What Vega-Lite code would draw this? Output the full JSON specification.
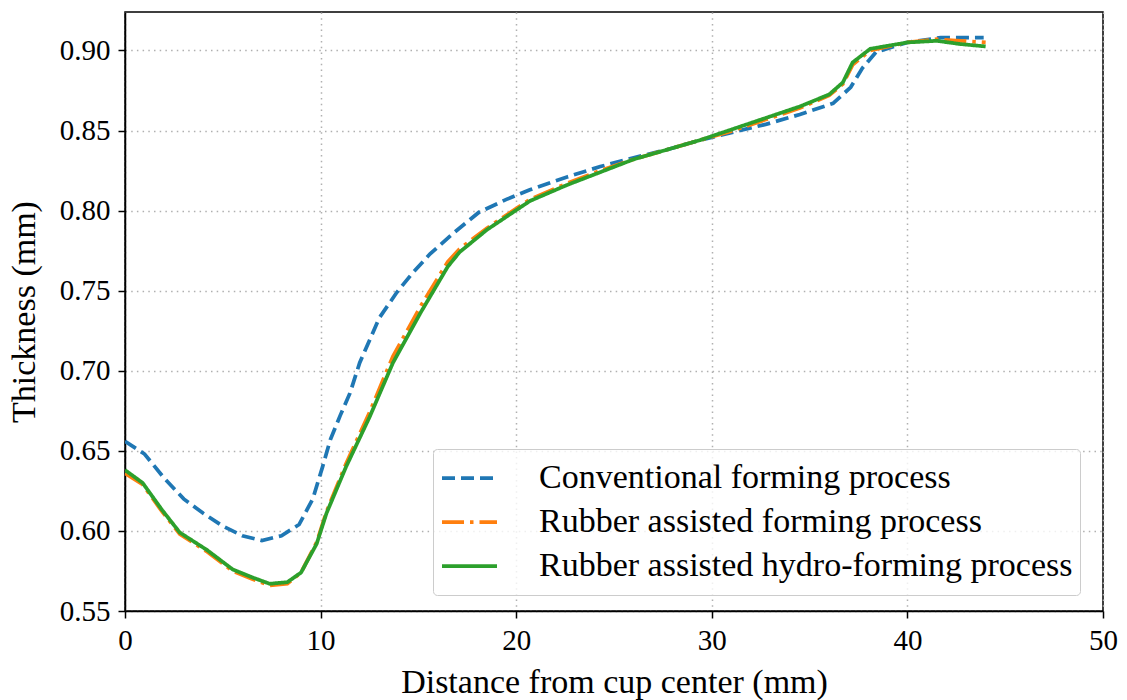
{
  "$schema": "https://vega.github.io/schema/vega-lite/v6.json",
  "autosize": {"type": "none"},
  "padding": {"left": 125, "top": 12, "right": 24, "bottom": 89},
  "width": 978,
  "height": 599,
  "background": "white",
  "config": {
    "font": "Liberation Serif",
    "view": {"stroke": "black", "strokeWidth": 1.5},
    "axis": {
      "domainColor": "black",
      "domainWidth": 1.5,
      "tickColor": "black",
      "tickWidth": 1.5,
      "tickSize": 7,
      "labelFont": "Liberation Serif",
      "labelFontSize": 29,
      "labelColor": "black",
      "titleFont": "Liberation Serif",
      "titleFontSize": 34,
      "titleFontWeight": "normal",
      "titleColor": "black",
      "gridColor": "#b0b0b0",
      "gridWidth": 1.5,
      "gridDash": [1.5, 4.2]
    }
  },
  "data": {
    "values": [
      {"process": "Conventional forming process", "x": 0, "t": 0.656},
      {"process": "Conventional forming process", "x": 1, "t": 0.648},
      {"process": "Conventional forming process", "x": 2, "t": 0.633},
      {"process": "Conventional forming process", "x": 3, "t": 0.62},
      {"process": "Conventional forming process", "x": 4, "t": 0.611},
      {"process": "Conventional forming process", "x": 5, "t": 0.603},
      {"process": "Conventional forming process", "x": 6, "t": 0.597},
      {"process": "Conventional forming process", "x": 7, "t": 0.594},
      {"process": "Conventional forming process", "x": 8, "t": 0.597},
      {"process": "Conventional forming process", "x": 8.9, "t": 0.604},
      {"process": "Conventional forming process", "x": 9.6, "t": 0.62},
      {"process": "Conventional forming process", "x": 10.1, "t": 0.64},
      {"process": "Conventional forming process", "x": 10.5, "t": 0.657},
      {"process": "Conventional forming process", "x": 11, "t": 0.672},
      {"process": "Conventional forming process", "x": 11.5, "t": 0.686},
      {"process": "Conventional forming process", "x": 12, "t": 0.705},
      {"process": "Conventional forming process", "x": 13, "t": 0.733},
      {"process": "Conventional forming process", "x": 13.9, "t": 0.749},
      {"process": "Conventional forming process", "x": 14.7, "t": 0.761},
      {"process": "Conventional forming process", "x": 15.6, "t": 0.773},
      {"process": "Conventional forming process", "x": 16.8, "t": 0.786},
      {"process": "Conventional forming process", "x": 18.1, "t": 0.799},
      {"process": "Conventional forming process", "x": 19.5, "t": 0.807},
      {"process": "Conventional forming process", "x": 20.7, "t": 0.813},
      {"process": "Conventional forming process", "x": 22.6, "t": 0.821},
      {"process": "Conventional forming process", "x": 24.3, "t": 0.8275},
      {"process": "Conventional forming process", "x": 26, "t": 0.833},
      {"process": "Conventional forming process", "x": 27.7, "t": 0.838},
      {"process": "Conventional forming process", "x": 29.4, "t": 0.844},
      {"process": "Conventional forming process", "x": 31.1, "t": 0.849},
      {"process": "Conventional forming process", "x": 32.8, "t": 0.854},
      {"process": "Conventional forming process", "x": 34.5, "t": 0.86},
      {"process": "Conventional forming process", "x": 36.2, "t": 0.867},
      {"process": "Conventional forming process", "x": 37.1, "t": 0.877},
      {"process": "Conventional forming process", "x": 37.7, "t": 0.889},
      {"process": "Conventional forming process", "x": 38.4, "t": 0.899},
      {"process": "Conventional forming process", "x": 40, "t": 0.905},
      {"process": "Conventional forming process", "x": 41.7, "t": 0.908},
      {"process": "Conventional forming process", "x": 43.9, "t": 0.908},

      {"process": "Rubber assisted forming process", "x": 0, "t": 0.636},
      {"process": "Rubber assisted forming process", "x": 0.9, "t": 0.629},
      {"process": "Rubber assisted forming process", "x": 1.9, "t": 0.612},
      {"process": "Rubber assisted forming process", "x": 2.8, "t": 0.598},
      {"process": "Rubber assisted forming process", "x": 4.2, "t": 0.587},
      {"process": "Rubber assisted forming process", "x": 5.5, "t": 0.575},
      {"process": "Rubber assisted forming process", "x": 6.5, "t": 0.57},
      {"process": "Rubber assisted forming process", "x": 7.4, "t": 0.566},
      {"process": "Rubber assisted forming process", "x": 8.3, "t": 0.567},
      {"process": "Rubber assisted forming process", "x": 9, "t": 0.574},
      {"process": "Rubber assisted forming process", "x": 9.8, "t": 0.593},
      {"process": "Rubber assisted forming process", "x": 10.3, "t": 0.612},
      {"process": "Rubber assisted forming process", "x": 11.3, "t": 0.642},
      {"process": "Rubber assisted forming process", "x": 12.5, "t": 0.674},
      {"process": "Rubber assisted forming process", "x": 13.7, "t": 0.709},
      {"process": "Rubber assisted forming process", "x": 15.1, "t": 0.74},
      {"process": "Rubber assisted forming process", "x": 16.5, "t": 0.768},
      {"process": "Rubber assisted forming process", "x": 17.1, "t": 0.776},
      {"process": "Rubber assisted forming process", "x": 18.5, "t": 0.789},
      {"process": "Rubber assisted forming process", "x": 20.7, "t": 0.807},
      {"process": "Rubber assisted forming process", "x": 22.6, "t": 0.817},
      {"process": "Rubber assisted forming process", "x": 24.3, "t": 0.825},
      {"process": "Rubber assisted forming process", "x": 26, "t": 0.832},
      {"process": "Rubber assisted forming process", "x": 27.7, "t": 0.838},
      {"process": "Rubber assisted forming process", "x": 29.4, "t": 0.844},
      {"process": "Rubber assisted forming process", "x": 31.1, "t": 0.85},
      {"process": "Rubber assisted forming process", "x": 32.8, "t": 0.857},
      {"process": "Rubber assisted forming process", "x": 34.5, "t": 0.864},
      {"process": "Rubber assisted forming process", "x": 36, "t": 0.872},
      {"process": "Rubber assisted forming process", "x": 36.7, "t": 0.879},
      {"process": "Rubber assisted forming process", "x": 37.2, "t": 0.891},
      {"process": "Rubber assisted forming process", "x": 38.1, "t": 0.9},
      {"process": "Rubber assisted forming process", "x": 40, "t": 0.905},
      {"process": "Rubber assisted forming process", "x": 41.5, "t": 0.907},
      {"process": "Rubber assisted forming process", "x": 42.7, "t": 0.906},
      {"process": "Rubber assisted forming process", "x": 44, "t": 0.905},

      {"process": "Rubber assisted hydro-forming process", "x": 0, "t": 0.638},
      {"process": "Rubber assisted hydro-forming process", "x": 0.9, "t": 0.63},
      {"process": "Rubber assisted hydro-forming process", "x": 1.9, "t": 0.613},
      {"process": "Rubber assisted hydro-forming process", "x": 2.8, "t": 0.599},
      {"process": "Rubber assisted hydro-forming process", "x": 4.2, "t": 0.588},
      {"process": "Rubber assisted hydro-forming process", "x": 5.5, "t": 0.576},
      {"process": "Rubber assisted hydro-forming process", "x": 6.5, "t": 0.571},
      {"process": "Rubber assisted hydro-forming process", "x": 7.4, "t": 0.567},
      {"process": "Rubber assisted hydro-forming process", "x": 8.3, "t": 0.568},
      {"process": "Rubber assisted hydro-forming process", "x": 9, "t": 0.574},
      {"process": "Rubber assisted hydro-forming process", "x": 9.8, "t": 0.592},
      {"process": "Rubber assisted hydro-forming process", "x": 10.3, "t": 0.611},
      {"process": "Rubber assisted hydro-forming process", "x": 11.3, "t": 0.64},
      {"process": "Rubber assisted hydro-forming process", "x": 12.5, "t": 0.671},
      {"process": "Rubber assisted hydro-forming process", "x": 13.7, "t": 0.705},
      {"process": "Rubber assisted hydro-forming process", "x": 15.1, "t": 0.736},
      {"process": "Rubber assisted hydro-forming process", "x": 16.5, "t": 0.765},
      {"process": "Rubber assisted hydro-forming process", "x": 17.1, "t": 0.774},
      {"process": "Rubber assisted hydro-forming process", "x": 18.5, "t": 0.788},
      {"process": "Rubber assisted hydro-forming process", "x": 20.7, "t": 0.806},
      {"process": "Rubber assisted hydro-forming process", "x": 22.6, "t": 0.816},
      {"process": "Rubber assisted hydro-forming process", "x": 24.3, "t": 0.824},
      {"process": "Rubber assisted hydro-forming process", "x": 26, "t": 0.832},
      {"process": "Rubber assisted hydro-forming process", "x": 27.7, "t": 0.838},
      {"process": "Rubber assisted hydro-forming process", "x": 29.4, "t": 0.844},
      {"process": "Rubber assisted hydro-forming process", "x": 31.1, "t": 0.851},
      {"process": "Rubber assisted hydro-forming process", "x": 32.8, "t": 0.858},
      {"process": "Rubber assisted hydro-forming process", "x": 34.5, "t": 0.865},
      {"process": "Rubber assisted hydro-forming process", "x": 36, "t": 0.8725},
      {"process": "Rubber assisted hydro-forming process", "x": 36.7, "t": 0.88},
      {"process": "Rubber assisted hydro-forming process", "x": 37.2, "t": 0.8925},
      {"process": "Rubber assisted hydro-forming process", "x": 38.1, "t": 0.901},
      {"process": "Rubber assisted hydro-forming process", "x": 40, "t": 0.905},
      {"process": "Rubber assisted hydro-forming process", "x": 41.5, "t": 0.906},
      {"process": "Rubber assisted hydro-forming process", "x": 42.7, "t": 0.904},
      {"process": "Rubber assisted hydro-forming process", "x": 44, "t": 0.9025}
    ]
  },
  "mark": {"type": "line", "strokeWidth": 3.75, "clip": true},
  "encoding": {
    "x": {
      "field": "x",
      "type": "quantitative",
      "title": "Distance from cup center (mm)",
      "scale": {"domain": [0, 50], "nice": false, "zero": false},
      "axis": {"values": [0, 10, 20, 30, 40, 50], "labelPadding": 8, "titlePadding": 10, "labelFlush": false}
    },
    "y": {
      "field": "t",
      "type": "quantitative",
      "title": "Thickness (mm)",
      "scale": {"domain": [0.55, 0.924], "nice": false, "zero": false},
      "axis": {"values": [0.55, 0.6, 0.65, 0.7, 0.75, 0.8, 0.85, 0.9], "format": ".2f", "labelPadding": 8, "titlePadding": 18, "labelFlush": false}
    },
    "color": {
      "field": "process",
      "type": "nominal",
      "scale": {
        "domain": ["Conventional forming process", "Rubber assisted forming process", "Rubber assisted hydro-forming process"],
        "range": ["#1f77b4", "#ff7f0e", "#2ca02c"]
      },
      "legend": {
        "title": null,
        "orient": "none",
        "legendX": 308,
        "legendY": 437,
        "padding": 7,
        "cornerRadius": 4,
        "strokeColor": "#cccccc",
        "fillColor": "rgba(255,255,255,0.8)",
        "symbolType": "stroke",
        "symbolSize": 3025,
        "symbolStrokeWidth": 3.75,
        "clipHeight": 44,
        "labelFont": "Liberation Serif",
        "labelFontSize": 34,
        "labelColor": "black",
        "labelOffset": 40,
        "labelLimit": 700,
        "rowPadding": 0
      }
    },
    "strokeDash": {
      "field": "process",
      "type": "nominal",
      "scale": {
        "domain": ["Conventional forming process", "Rubber assisted forming process", "Rubber assisted hydro-forming process"],
        "range": [[13, 6], [22, 6, 3.5, 6], [1, 0]]
      },
      "legend": null
    }
  }
}
